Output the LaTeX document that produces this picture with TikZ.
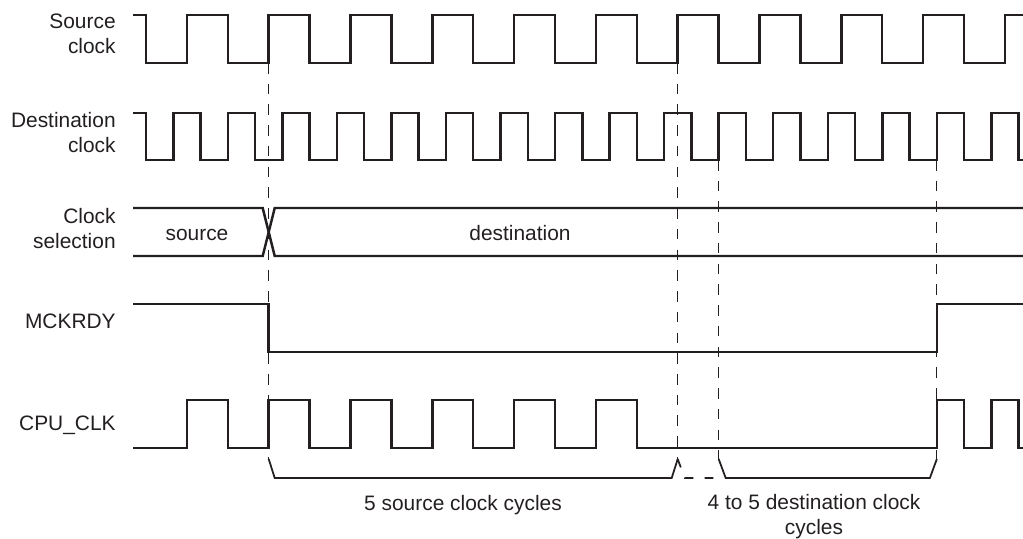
\documentclass[tikz,border=0pt]{standalone}
\usepackage{fontspec}
\setmainfont{Liberation Sans}
\definecolor{ink}{HTML}{231F20}
\newcommand\sigfont{\fontsize{11.9}{14.2}\selectfont}

\begin{document}
\begin{tikzpicture}[x=0.02cm, y=-0.02cm,
    signal/.style={line width=1.4pt, draw=ink},
    guide/.style={line width=0.6pt, draw=ink, dash pattern=on 6pt off 5.8pt},
    brace/.style={line width=1pt, draw=ink},
    siglabel/.style={anchor=base east, align=right, inner sep=0pt, text=ink, font=\sigfont},
    txt/.style={anchor=base, align=center, inner sep=0pt, text=ink, font=\sigfont}]

    \useasboundingbox (0,0) rectangle (1023,538);
    \def\hs{40.9}
    \def\hd{27.27}

    \coordinate (t1) at ({146+3*\hs},63);
    \coordinate (t2) at ({146+13*\hs},63);
    \coordinate (t3) at ({146+21*\hd},160);
    \coordinate (t4) at ({146+29*\hd},160);
    \coordinate (tip) at (0,459);

    \draw[guide] (t1) -- (t1 |- tip);
    \draw[guide] (t2) -- (t2 |- tip);
    \draw[guide] (t3) -- (t3 |- tip);
    \draw[guide] (t4) -- (t4 |- tip);

    \draw[brace] (t1 |- tip) -- ++(6,19) -- ++(397,0) -- (t2 |- tip);
    \draw[brace, dash pattern=on 5.1pt off 6.3pt] (t2 |- tip) -- ++(7,19) -- (t3 |- 0,478);
    \draw[brace] (t3 |- tip) -- ++(7,19) -- ++(204.2,0) -- (t4 |- tip);

    \begin{scope}
        \clip (0,0) rectangle (1023,538);
        \draw[signal] (133,15) -- (146,15) \foreach \k in {0,...,10} { -- ++(0,48) -- ++(\hs,0) -- ++(0,-48) -- ++(\hs,0) };
        \draw[signal] (133,113) -- (146,113) \foreach \k in {0,...,16} { -- ++(0,47) -- ++(\hd,0) -- ++(0,-47) -- ++(\hd,0) };

        \draw[signal] (133,208) -- (262.7,208) -- (274.7,256) -- (1023,256);
        \draw[signal] (133,256) -- (262.7,256) -- (274.7,208) -- (1023,208);

        \draw[signal] (133,304) -- (t1 |- 0,304) -- (t1 |- 0,352) -- (t4 |- 0,352) -- (t4 |- 0,304) -- (1023,304);

        \draw[signal] (133,448) -- ({146+\hs},448) \foreach \k in {1,...,6} { -- ++(0,-48) -- ++(\hs,0) -- ++(0,48) -- ++(\hs,0) }
            -- (t4 |- 0,448) \foreach \k in {1,2} { -- ++(0,-48) -- ++(\hd,0) -- ++(0,48) -- ++(\hd,0) };
    \end{scope}

    \node[siglabel] (src) at (116,53) {Source\\clock};
    \node[siglabel] (dst) at (116,152) {Destination\\clock};
    \node[siglabel] (sel) at (116,248) {Clock\\selection};
    \node[siglabel] (rdy) at (116,328) {MCKRDY};
    \node[siglabel] (cpu) at (116,430) {CPU\_CLK};

    \node[txt] (old) at (197,240) {source};
    \node[txt] (new) at (520,240) {destination};
    \node[txt] (n5) at (463,510) {5 source clock cycles};
    \node[txt] (n45) at (814,534) {4 to 5 destination clock\\cycles};
\end{tikzpicture}
\end{document}
